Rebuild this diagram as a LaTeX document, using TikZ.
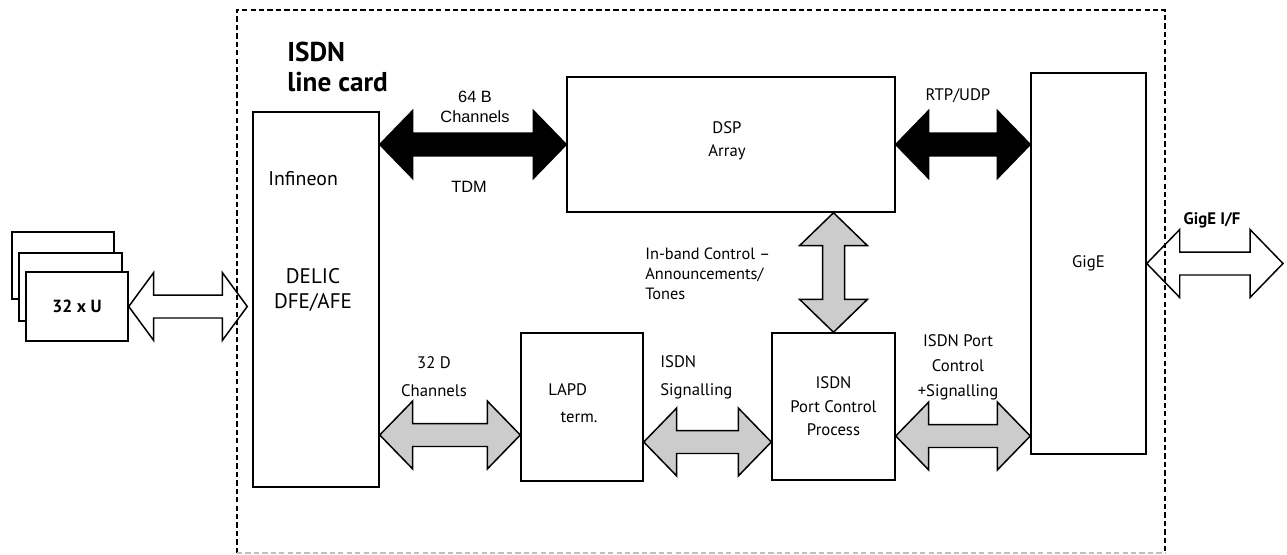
\documentclass[tikz,border=0pt]{standalone}
\usepackage{fontspec}
\setmainfont{PT Sans}
\newfontfamily\arialfont{Liberation Sans}
\usetikzlibrary{calc}

% fat double arrows, left to right and top to bottom
\newcommand{\harrow}[4][0.66cm]{%
\path[#2] let \p1=#3, \p2=#4 in (\x1,\y1) -- (\x1+#1,\y1+0.68cm) -- (\x1+#1,\y1+0.23cm)
  -- (\x2-#1,\y1+0.23cm) -- (\x2-#1,\y1+0.68cm) -- (\x2,\y1) -- (\x2-#1,\y1-0.68cm)
  -- (\x2-#1,\y1-0.23cm) -- (\x1+#1,\y1-0.23cm) -- (\x1+#1,\y1-0.68cm) -- cycle;}
\newcommand{\varrow}[4][0.66cm]{%
\path[#2] let \p1=#3, \p2=#4 in (\x1,\y1) -- (\x1+0.68cm,\y1-#1) -- (\x1+0.22cm,\y1-#1)
  -- (\x1+0.22cm,\y2+#1) -- (\x1+0.68cm,\y2+#1) -- (\x1,\y2) -- (\x1-0.68cm,\y2+#1)
  -- (\x1-0.22cm,\y2+#1) -- (\x1-0.22cm,\y1-#1) -- (\x1-0.68cm,\y1-#1) -- cycle;}

\tikzset{
  blk/.style={draw, line width=0.85pt, fill=white, inner sep=0pt, font=\fontsize{9.5}{13}\selectfont},
  txt/.style={inner sep=0pt, font=\fontsize{9.5}{13}\selectfont},
  blackarrow/.style={draw, fill=black, line width=0.85pt},
  grayarrow/.style={draw, fill=black!20, line width=0.85pt},
  whitearrow/.style={draw, fill=white, line width=0.85pt},
  border/.style={line width=1.1pt, dash pattern=on 3pt off 1.8pt},
}

\begin{document}
\begin{tikzpicture}[x=0.02cm, y=-0.02cm]
\useasboundingbox (0,0) rectangle (1287,554);

% stacked U interfaces
\node[blk, minimum width=2.04cm, minimum height=1.34cm] (uback) at (63,265.5) {};
\node[blk, minimum width=2.06cm, minimum height=1.36cm] (umid) at (70.5,287) {};
\node[blk, minimum width=2.04cm, minimum height=1.38cm,
      font=\fontsize{10}{12}\selectfont\bfseries] (ufront) at (77,306.5) {32 x U};

% blocks of the line card
\node[blk, minimum width=2.52cm, minimum height=7.5cm] (delic) at (316,299.5) {};
\node[blk, minimum width=6.56cm, minimum height=2.7cm] (dsp) at (731,144.5) {};
\node[blk, minimum width=2.3cm, minimum height=7.62cm] (gige) at (1088.5,263.5) {GigE};
\node[blk, minimum width=2.44cm, minimum height=2.96cm] (lapd) at (582,407) {};
\node[blk, minimum width=2.46cm, minimum height=2.94cm, align=center,
      font=\fontsize{9.5}{13.3}\selectfont] (port) at (833.5,406.5) {ISDN\\Port Control\\Process};

% texts
\node[txt, font=\fontsize{15.5}{17}\selectfont\bfseries, align=left, anchor=north west] (title) at (287,42) {ISDN\\line card};
\node[txt, font=\fontsize{11.3}{13}\selectfont, anchor=base west] (infineon) at (268,185) {Infineon};
\node[txt, font=\fontsize{12}{14.7}\selectfont, align=center] (delicname) at (313,290) {DELIC\\DFE/AFE};
\node[txt, font=\arialfont\fontsize{9.3}{11.5}\selectfont, align=center] (bch) at (475,107) {64 B\\Channels};
\node[txt, font=\arialfont\fontsize{9.3}{11.5}\selectfont, anchor=base] (tdm) at (469,192) {TDM};
\node[txt, align=center] (dspname) at (727,140.5) {DSP\\Array};
\node[txt, anchor=base] (rtp) at (958,100) {RTP/UDP};
\node[txt, font=\fontsize{9.3}{11.3}\selectfont, align=left, anchor=north west] (inband) at (645,248)
  {In-band Control --\\Announcements/\\Tones};
\node[txt, font=\fontsize{9.5}{15.9}\selectfont, align=center] (dchname) at (434,377) {32 D\\Channels};
\node[txt, font=\fontsize{9.5}{15.3}\selectfont, align=left, anchor=north west] (lapdname) at (548,383)
  {LAPD\\\hspace{7pt}term.};
\node[txt, font=\fontsize{9.5}{15.9}\selectfont, align=left, anchor=north west] (signame) at (660,355)
  {ISDN\\Signalling};
\node[txt, font=\fontsize{9.5}{14.2}\selectfont, align=center] (psigname) at (958,367)
  {ISDN Port\\Control\\+Signalling};
\node[txt, font=\fontsize{9.5}{11}\selectfont\bfseries, anchor=base] (ifname) at (1212,224) {GigE I/F};

% arrow levels
\coordinate (dch) at (450,435);
\coordinate (sig) at (708,442);
\coordinate (psig) at (963,436);
\coordinate (ifend) at (1283,263.5);

% connectors
\harrow{blackarrow}{(delic.east |- dsp.west)}{(dsp.west)}
\harrow{blackarrow}{(dsp.east)}{(gige.west |- dsp.east)}
\varrow{grayarrow}{(port.north |- dsp.south)}{(port.north)}
\harrow{grayarrow}{(delic.east |- dch)}{(lapd.west |- dch)}
\harrow{grayarrow}{(lapd.east |- sig)}{(port.west |- sig)}
\harrow{grayarrow}{(port.east |- psig)}{(gige.west |- psig)}
\harrow[0.5cm]{whitearrow}{(ufront.east)}{([xshift=-0.1cm]delic.west |- ufront.east)}
\harrow{whitearrow}{(gige.east)}{(ifend)}

% line card border
\draw[border] (237,553) -- (237,10) -- (1165,10) -- (1165,554);
\draw[border, black!25] (237,553) -- (1165,553);
\end{tikzpicture}
\end{document}
